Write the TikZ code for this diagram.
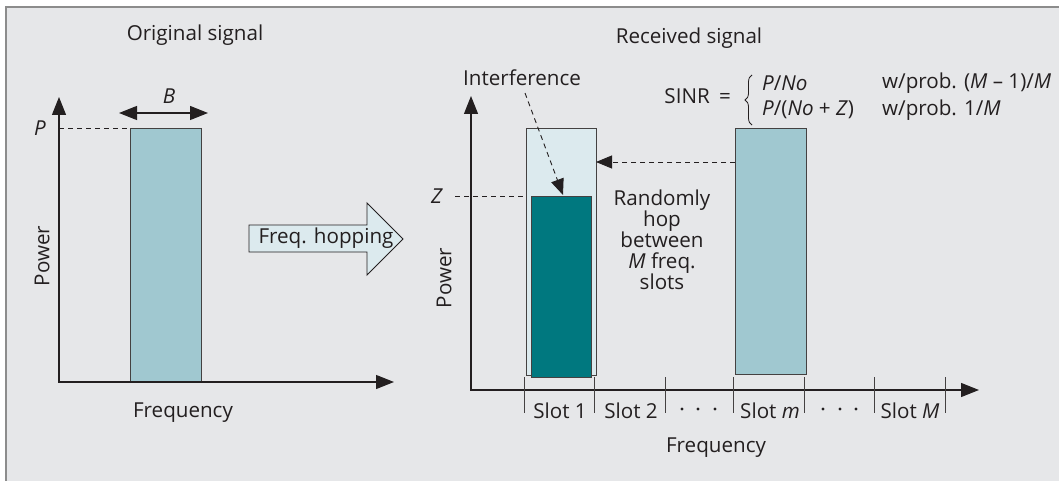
\documentclass[tikz,border=0pt]{standalone}
\usepackage{fontspec}
\setmainfont{Open Sans}
\usetikzlibrary{arrows.meta,decorations.pathreplacing}
\definecolor{bg}{HTML}{E6E7E9}
\definecolor{framec}{HTML}{8C8C8C}
\definecolor{barlight}{HTML}{A0C8D0}
\definecolor{bardark}{HTML}{00787F}
\definecolor{barpale}{HTML}{DCEAEE}
\definecolor{ink}{HTML}{231F20}
\begin{document}
\begin{tikzpicture}[x=1pt,y=-1pt,
  font=\fontsize{20.6}{21}\selectfont,
  >={Triangle[length=18pt,width=14pt]},
  axisline/.style={draw=ink, line width=1.1pt},
  bar/.style={draw=ink!85, line width=0.9pt, anchor=north west, inner sep=0pt, outer sep=0pt},
  dashline/.style={draw=ink, line width=0.9pt, dash pattern=on 5pt off 4pt},
  tickline/.style={draw=ink!85, line width=0.9pt},
  lbl/.style={inner sep=0pt, text=ink}]
\useasboundingbox (0,0) rectangle (1059,481);
\fill[bg] (6,7) rectangle (1059,481);
\draw[framec, line width=1.5pt] (6,481) -- (6,7) -- (1059,7);

% ---------- left: original signal ----------
\node[lbl] (orig) at (195,35) {Original signal};
\coordinate (o1) at (59,382);
\coordinate (y1) at (59,97);
\coordinate (x1) at (394,382);
\node[bar, fill=barlight, minimum width=71pt, minimum height=254pt] (bar1) at (130,128) {};
\draw[axisline, <->] (y1) -- (o1) -- (x1);
\node[lbl] (P) at (40,128) {\textit{P}};
\draw[dashline] (y1 |- bar1.north west) -- (bar1.north west);
\coordinate (bl) at (119,113);
\coordinate (br) at (208,113);
\draw[axisline, <->] (bl) -- (br);
\node[lbl] (B) at (169,96) {\textit{B}};
\node[lbl, rotate=90] (pow1) at (42,256) {Power};
\node[lbl] (freq1) at (183,413) {Frequency};

% ---------- hopping arrow ----------
\draw[draw=ink, line width=0.9pt, fill=barpale]
  (249,225) -- (367,225) -- (367,203) -- (403,239) -- (367,275) -- (367,252) -- (249,252) -- cycle;
\node[lbl] (hop) at (326,238) {Freq. hopping};

% ---------- right: received signal ----------
\node[lbl] (recv) at (689,38) {Received signal};
\node[lbl] (intf) at (522,78) {Interference};
\coordinate (o2) at (471,390);
\coordinate (y2) at (471,96);
\coordinate (x2) at (979,390);
\node[bar, fill=barpale, minimum width=70pt, minimum height=247pt] (outer) at (526,128) {};
\node[bar, fill=bardark, minimum width=60pt, minimum height=181pt] (inner) at (531,196) {};
\node[bar, fill=barlight, minimum width=71pt, minimum height=246pt] (barm) at (735,128) {};
\draw[axisline, <->] (y2) -- (o2) -- (x2);

\node[lbl] (Z) at (437,196) {\textit{Z}};
\coordinate (z0) at (455,196);
\draw[dashline] (z0) -- (outer.west |- z0);

\coordinate (h0) at (735,162);
\draw[dashline, -{Triangle[length=16pt,width=13pt]}] (h0) -- (outer.east |- h0);

\coordinate (i0) at (525,93);
\coordinate (i1) at (563,195);
\draw[dashline, -{Triangle[length=16pt,width=13pt]}] (i0) -- (i1);

\node[lbl, align=center] (rand) at (662,240) {Randomly\\hop\\between\\\textit{M} freq.\\slots};

\foreach \x in {524,594,665,733,804,874,945}
  \draw[tickline] (\x,377) -- (\x,413);
\node[lbl] (s1) at (560,411) {Slot 1};
\node[lbl] (s2) at (631,411) {Slot 2};
\node[lbl] (sm) at (770,411) {Slot \textit{m}};
\node[lbl] (sM) at (910,411) {Slot \textit{M}};
\foreach \x in {682,698,715,823,840,856}
  \fill[ink] (\x,409) circle (1.6pt);
\node[lbl] (freq2) at (716,448) {Frequency};
\node[lbl, rotate=90] (pow2) at (444,278) {Power};

% ---------- SINR ----------
\node[lbl, anchor=east] (sinr) at (731,96) {SINR\hspace{0.45em}=};
\draw[ink, line width=0.8pt, decorate, decoration={brace, amplitude=7pt}] (752,125) -- (752,75);
\node[lbl, anchor=west] (r1a) at (762,83) {\textit{P}/\textit{No}};
\node[lbl, anchor=west] (r1b) at (882,83) {w/prob. (\textit{M} – 1)/\textit{M}};
\node[lbl, anchor=west] (r2a) at (762,110) {\textit{P}/(\textit{No} + \textit{Z})};
\node[lbl, anchor=west] (r2b) at (882,110) {w/prob. 1/\textit{M}};
\end{tikzpicture}
\end{document}
